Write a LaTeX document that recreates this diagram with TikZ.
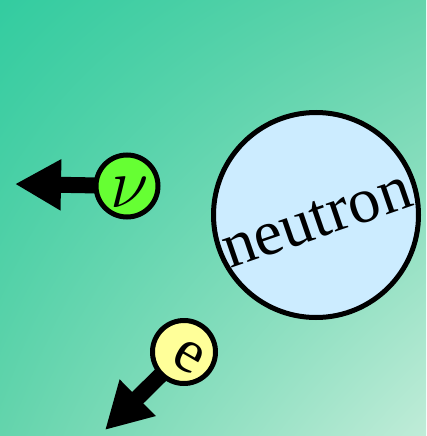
\documentclass[tikz,border=0pt]{standalone}
\usepackage{fix-cm}
\usepackage{fontspec}
\setmainfont{Liberation Serif}
\usepackage{tikz}
\usetikzlibrary{arrows.meta,backgrounds,shadings}

\definecolor{bgtl}{RGB}{51,204,160}
\definecolor{bgmid}{RGB}{100,212,172}
\definecolor{bgbr}{RGB}{192,236,216}
\definecolor{nucl}{RGB}{204,236,255}
\definecolor{nuc}{RGB}{102,255,51}
\definecolor{elc}{RGB}{255,255,153}

\begin{document}
\begin{tikzpicture}[
  x=1pt, y=-1pt,
  particle/.style={draw, circle, line width=5pt, inner sep=0pt},
  pointer/.style={line width=16pt, -{Triangle[length=46pt 0 0, width=48pt 0 0]}}
]
\useasboundingbox (0,0) rectangle (426,436);
\node[particle, fill=nucl, minimum size=205pt] (neutron) at (316,215) {};
\node[anchor=base, rotate=19, font=\fontsize{64}{64}\selectfont] (ntext) at (323,237) {neutron};
\node[particle, fill=nuc, minimum size=62pt] (nu) at (127,186)
  {\raisebox{-6pt}[\height][\depth]{\fontsize{70}{70}\usefont{OML}{cmm}{m}{it}\char"17}};
\node[particle, fill=elc, minimum size=63pt, rotate=-30] (el) at (184,352)
  {\hspace*{13pt}\raisebox{-2pt}[\height][\depth]{\fontsize{62}{62}\selectfont e}};
\coordinate (nutip) at (15,184);
\coordinate (etip) at (105,430);
\begin{scope}[on background layer]
  \shade[upper left=bgtl, upper right=bgmid, lower left=bgmid, lower right=bgbr]
    (0,0) rectangle (426,436);
  \draw[pointer] (nu.center) -- (nutip);
  \draw[pointer] (el.center) -- (etip);
\end{scope}
\end{tikzpicture}
\end{document}
